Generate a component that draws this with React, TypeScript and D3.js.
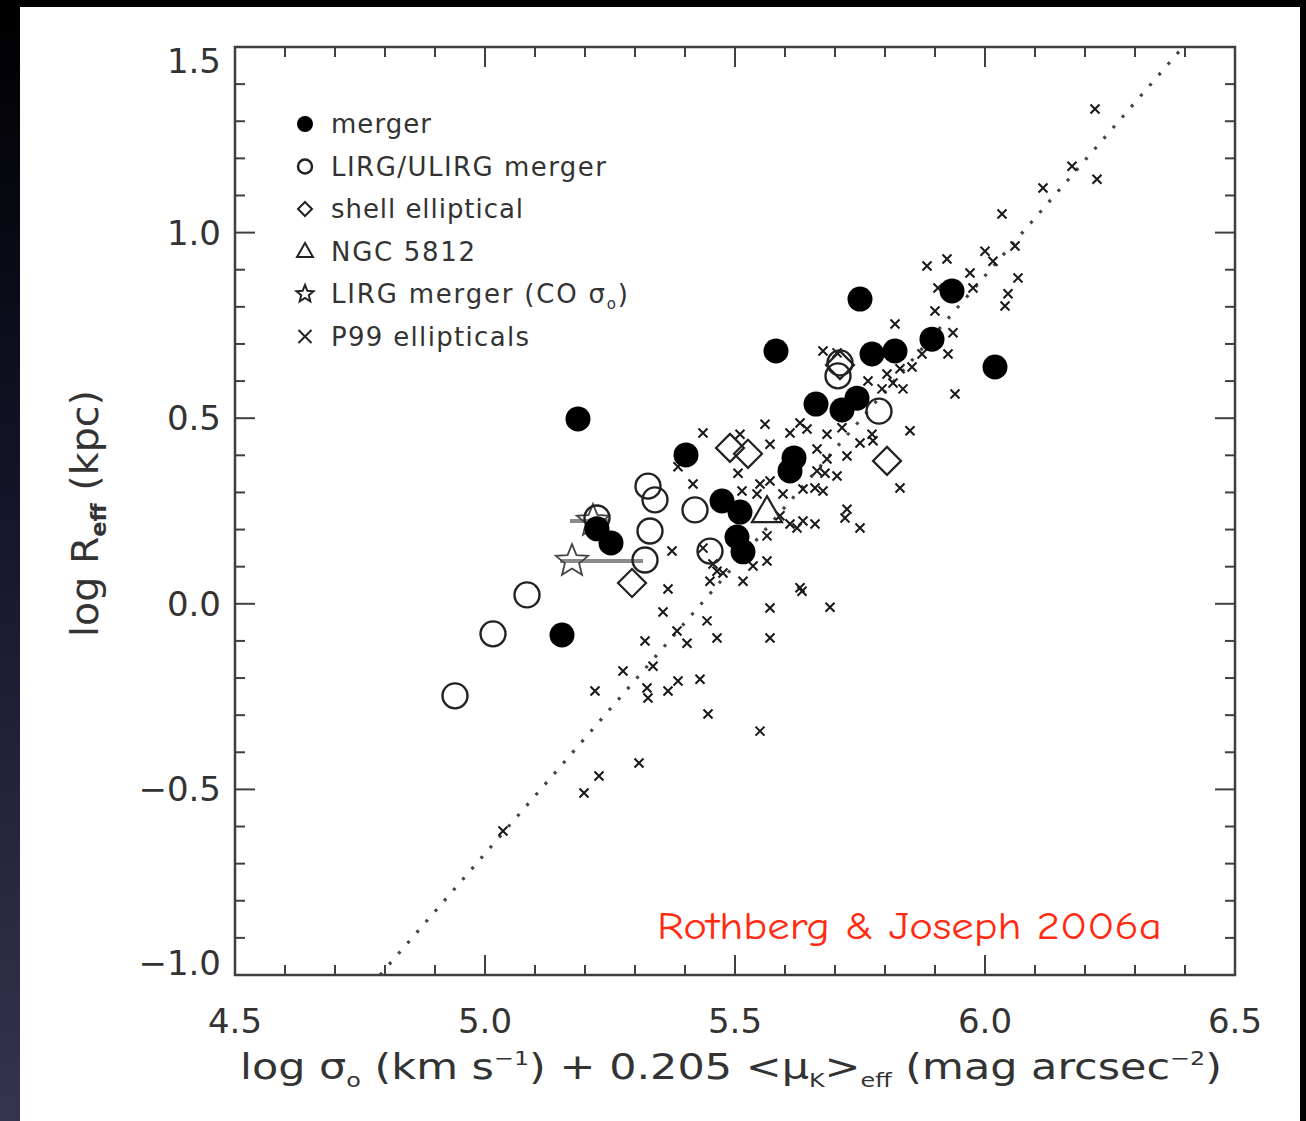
import React from "react";
import * as d3 from "d3";

// ---------- data ----------
const xTickValues = [4.5, 5.0, 5.5, 6.0, 6.5];
const xTickLabels = ["4.5", "5.0", "5.5", "6.0", "6.5"];
const yTickValues = [-1.0, -0.5, 0.0, 0.5, 1.0, 1.5];
const yTickLabels = ["\u22121.0", "\u22120.5", "0.0", "0.5", "1.0", "1.5"];

// merger (filled circles)
const mergers: [number, number][] = [
  [5.186, 0.498], [5.224, 0.202], [5.252, 0.164], [5.154, -0.084], [5.402, 0.401],
  [5.474, 0.277], [5.51, 0.247], [5.504, 0.18], [5.516, 0.14], [5.582, 0.681],
  [5.61, 0.358], [5.618, 0.393], [5.662, 0.538], [5.714, 0.522], [5.744, 0.554],
  [5.75, 0.821], [5.774, 0.673], [5.82, 0.681], [5.894, 0.713], [5.934, 0.843],
  [6.02, 0.638],
];

// LIRG/ULIRG merger (open circles)
const lirgMergers: [number, number][] = [
  [4.94, -0.248], [5.016, -0.081], [5.084, 0.024], [5.224, 0.231], [5.326, 0.317],
  [5.34, 0.28], [5.33, 0.196], [5.32, 0.118], [5.42, 0.253], [5.45, 0.142],
  [5.706, 0.614], [5.71, 0.649], [5.788, 0.519],
];

// shell elliptical (diamonds)
const shellEllipticals: [number, number][] = [
  [5.49, 0.42], [5.526, 0.404], [5.804, 0.385], [5.294, 0.056], [5.71, 0.643],
];

// NGC 5812 (triangle)
const ngc5812: [number, number][] = [[5.564, 0.248]];

// LIRG merger (CO sigma) stars with horizontal error bars
const lirgCOx = [5.174, 5.216];
const lirgCOy = [0.115, 0.223];
const lirgCOxLow = [5.15, 5.17];
const lirgCOxHigh = [5.316, 5.25];

// P99 ellipticals (crosses)
const p99: [number, number][] = [
  [6.22, 1.333], [6.174, 1.179], [6.224, 1.144], [6.116, 1.12], [6.034, 1.05],
  [6.06, 0.964], [6.0, 0.95], [6.016, 0.923], [5.884, 0.91], [5.924, 0.929],
  [5.97, 0.891], [6.066, 0.878], [5.976, 0.851], [6.046, 0.835], [6.04, 0.802],
  [5.906, 0.851], [5.9, 0.789], [5.82, 0.754], [5.936, 0.73], [5.926, 0.673],
  [5.94, 0.565], [5.85, 0.466], [5.804, 0.619], [5.836, 0.579], [5.874, 0.673],
  [5.676, 0.681], [5.704, 0.676], [5.83, 0.633], [5.854, 0.638], [5.766, 0.6],
  [5.794, 0.579], [5.816, 0.595], [5.436, 0.46], [5.56, 0.484], [5.83, 0.312],
  [5.416, 0.323], [5.51, 0.457], [5.75, 0.433], [5.724, 0.398], [5.684, 0.39],
  [5.776, 0.439], [5.57, 0.43], [5.61, 0.46], [5.63, 0.487], [5.644, 0.471],
  [5.684, 0.457], [5.714, 0.474], [5.774, 0.457], [5.664, 0.417], [5.664, 0.358],
  [5.68, 0.352], [5.704, 0.344], [5.66, 0.312], [5.676, 0.304], [5.636, 0.309],
  [5.506, 0.352], [5.55, 0.323], [5.57, 0.331], [5.514, 0.304], [5.544, 0.296],
  [5.596, 0.296], [5.59, 0.237], [5.61, 0.215], [5.624, 0.204], [5.636, 0.223],
  [5.66, 0.215], [5.724, 0.255], [5.72, 0.231], [5.75, 0.204], [5.564, 0.183],
  [5.436, 0.15], [5.456, 0.107], [5.45, 0.061], [5.516, 0.061], [5.564, 0.115],
  [5.63, 0.043], [5.476, 0.083], [5.374, 0.142], [5.366, 0.04], [5.356, -0.022],
  [5.444, -0.046], [5.384, -0.073], [5.404, -0.106], [5.464, -0.092], [5.32, -0.1],
  [5.57, -0.011], [5.57, -0.092], [5.634, 0.034], [5.464, 0.088], [5.536, 0.102],
  [5.336, -0.168], [5.276, -0.181], [5.22, -0.235], [5.324, -0.227], [5.326, -0.254],
  [5.366, -0.235], [5.386, -0.208], [5.43, -0.203], [5.446, -0.297], [5.55, -0.343],
  [5.308, -0.429], [5.228, -0.464], [5.198, -0.51], [5.036, -0.612], [5.69, -0.009],
  [5.386, 0.369],
];

// fundamental-plane fit line: y = intercept + slope * x
const fitSlope = 1.5567;
const fitIntercept = -8.4566;

const legendLabels = [
  "merger",
  "LIRG/ULIRG merger",
  "shell elliptical",
  "NGC 5812",
  "LIRG merger (CO σo)",
  "P99 ellipticals",
];

const creditText = "Rothberg & Joseph 2006a";

// ---------- helpers ----------
function starPath(cx: number, cy: number, R: number, r: number) {
  const pts: string[] = [];
  for (let i = 0; i < 10; i++) {
    const ang = -Math.PI / 2 + (i * Math.PI) / 5;
    const rad = i % 2 === 0 ? R : r;
    pts.push(`${cx + rad * Math.cos(ang)},${cy + rad * Math.sin(ang)}`);
  }
  return "M" + pts.join("L") + "Z";
}
function diamondPath(cx: number, cy: number, h: number) {
  return `M${cx},${cy - h}L${cx + h},${cy}L${cx},${cy + h}L${cx - h},${cy}Z`;
}
function trianglePath(cx: number, cy: number, w: number, hgt: number) {
  return `M${cx},${cy - hgt * 0.6}L${cx + w / 2},${cy + hgt * 0.4}L${cx - w / 2},${cy + hgt * 0.4}Z`;
}
function crossPath(cx: number, cy: number, s: number) {
  return `M${cx - s},${cy - s}L${cx + s},${cy + s}M${cx - s},${cy + s}L${cx + s},${cy - s}`;
}

export default function App() {
  const W = 1306;
  const H = 1121;
  const x = d3.scaleLinear().domain([4.5, 6.5]).range([235, 1235]);
  const y = d3.scaleLinear().domain([-1.0, 1.5]).range([975, 47]);
  const [x0, x1] = x.range();
  const [yb, yt] = y.range();
  const axisColor = "#3f3f3f";
  const textColor = "#333";
  const font = "'DejaVu Sans', 'Liberation Sans', sans-serif";

  const xMinor = d3.range(45, 66).map((v) => v / 10);
  const yMinor = d3.range(-10, 16).map((v) => v / 10);
  const isMajor = (v: number) => Math.abs(v * 2 - Math.round(v * 2)) < 1e-6;

  const fitX0 = (-1.0 - fitIntercept) / fitSlope;
  const fitX1 = (1.5 - fitIntercept) / fitSlope;

  const legendX = 305;
  const legendY0 = 124;
  const legendDy = 42.5;
  const legendTextX = 331;
  const legendWidths = [100, 275, 192, 144, 297, 198];

  return (
    <div style={{ position: "absolute", left: 0, top: 0 }}>
      <svg width={W} height={H} style={{ display: "block" }}>
        <defs>
          <linearGradient id="leftStrip" x1="0" y1="0" x2="0" y2="1">
            <stop offset="0" stopColor="#000000" />
            <stop offset="0.45" stopColor="#14142a" />
            <stop offset="1" stopColor="#34344e" />
          </linearGradient>
          <clipPath id="plotClip">
            <rect x={x0} y={yt} width={x1 - x0} height={yb - yt} />
          </clipPath>
        </defs>
        <rect x={0} y={0} width={W} height={H} fill="#000" />
        <rect x={0} y={0} width={20} height={H} fill="url(#leftStrip)" />
        <rect x={20} y={7} width={1280} height={H - 7} fill="#ffffff" />

        {/* fit line */}
        <g clipPath="url(#plotClip)">
          <line
            x1={x(fitX0)}
            y1={y(-1.0)}
            x2={x(fitX1)}
            y2={y(1.5)}
            stroke="#444"
            strokeWidth={3.2}
            strokeDasharray="3 11"
          />
        </g>

        {/* P99 crosses */}
        <g stroke="#1a1a1a" strokeWidth={2.1} fill="none">
          {p99.map((d, i) => (
            <path key={i} d={crossPath(x(d[0]), y(d[1]), 4.5)} />
          ))}
        </g>

        {/* error bars for CO stars */}
        <g stroke="#8a8a8a" strokeWidth={4}>
          {lirgCOx.map((_, i) => (
            <line
              key={i}
              x1={x(lirgCOxLow[i])}
              x2={x(lirgCOxHigh[i])}
              y1={y(lirgCOy[i])}
              y2={y(lirgCOy[i])}
            />
          ))}
        </g>
        <g stroke="#444" strokeWidth={1.8} fill="none">
          {lirgCOx.map((v, i) => (
            <path key={i} d={starPath(x(v), y(lirgCOy[i]), 17, 7.5)} />
          ))}
        </g>

        {/* shell ellipticals */}
        <g stroke="#222" strokeWidth={2.2} fill="none">
          {shellEllipticals.map((d, i) => (
            <path key={i} d={diamondPath(x(d[0]), y(d[1]), 14)} />
          ))}
        </g>

        {/* NGC 5812 */}
        <g stroke="#222" strokeWidth={2.2} fill="none">
          {ngc5812.map((d, i) => (
            <path key={i} d={trianglePath(x(d[0]), y(d[1]), 30, 26)} />
          ))}
        </g>

        {/* LIRG/ULIRG open circles */}
        <g stroke="#222" strokeWidth={2.4} fill="none">
          {lirgMergers.map((d, i) => (
            <circle key={i} cx={x(d[0])} cy={y(d[1])} r={12.5} />
          ))}
        </g>

        {/* mergers filled circles */}
        <g fill="#000">
          {mergers.map((d, i) => (
            <circle key={i} cx={x(d[0])} cy={y(d[1])} r={12.5} />
          ))}
        </g>

        {/* frame */}
        <rect
          x={x0}
          y={yt}
          width={x1 - x0}
          height={yb - yt}
          fill="none"
          stroke={axisColor}
          strokeWidth={2.5}
        />
        {/* ticks on all four sides */}
        <g stroke={axisColor} strokeWidth={2}>
          {xMinor.map((v, i) => {
            const len = isMajor(v) ? 20 : 10;
            return (
              <g key={i}>
                <line x1={x(v)} x2={x(v)} y1={yb} y2={yb - len} />
                <line x1={x(v)} x2={x(v)} y1={yt} y2={yt + len} />
              </g>
            );
          })}
          {yMinor.map((v, i) => {
            const len = isMajor(v) ? 20 : 10;
            return (
              <g key={i}>
                <line x1={x0} x2={x0 + len} y1={y(v)} y2={y(v)} />
                <line x1={x1} x2={x1 - len} y1={y(v)} y2={y(v)} />
              </g>
            );
          })}
        </g>

        {/* tick labels */}
        <g fontFamily={font} fontSize={34} fill={textColor}>
          {xTickValues.map((v, i) => (
            <text key={i} x={x(v)} y={yb + 58} textAnchor="middle">
              {xTickLabels[i]}
            </text>
          ))}
          {yTickValues.map((v, i) => {
            let off = 12;
            if (i === yTickValues.length - 1) off = 26;
            if (i === 0) off = 0;
            return (
              <text key={i} x={221} y={y(v) + off} textAnchor="end">
                {yTickLabels[i]}
              </text>
            );
          })}
        </g>

        {/* axis titles */}
        <text
          x={240}
          y={1079}
          fontFamily={font}
          fontSize={36}
          fill={textColor}
          textLength={982}
          lengthAdjust="spacingAndGlyphs"
        >
          log σ<tspan fontSize={20} dy={8}>o</tspan>
          <tspan dy={-8}> (km s</tspan>
          <tspan fontSize={20} dy={-14}>−1</tspan>
          <tspan dy={14}>) + 0.205 &lt;μ</tspan>
          <tspan fontSize={20} dy={8}>K</tspan>
          <tspan dy={-8}>&gt;</tspan>
          <tspan fontSize={20} dy={8}>eff</tspan>
          <tspan dy={-8}> (mag arcsec</tspan>
          <tspan fontSize={20} dy={-14}>−2</tspan>
          <tspan dy={14}>)</tspan>
        </text>
        <text
          transform="translate(98,637) rotate(-90)"
          fontFamily={font}
          fontSize={37}
          fill={textColor}
          textLength={247}
          lengthAdjust="spacingAndGlyphs"
        >
          log R<tspan fontSize={21} dy={8} fontWeight="bold">eff</tspan>
          <tspan dy={-8}> (kpc)</tspan>
        </text>

        {/* legend */}
        <g>
          <circle cx={legendX} cy={legendY0} r={8} fill="#000" />
          <circle cx={legendX} cy={legendY0 + legendDy} r={7} fill="none" stroke="#222" strokeWidth={2.5} />
          <path d={diamondPath(legendX, legendY0 + 2 * legendDy, 7)} fill="none" stroke="#222" strokeWidth={2} />
          <path d={trianglePath(legendX, legendY0 + 3 * legendDy, 16, 14)} fill="none" stroke="#222" strokeWidth={2} />
          <path d={starPath(legendX, legendY0 + 4 * legendDy, 9, 4)} fill="none" stroke="#222" strokeWidth={2} />
          <path d={crossPath(legendX, legendY0 + 5 * legendDy, 6.5)} fill="none" stroke="#222" strokeWidth={2} />
          <g fontFamily={font} fontSize={26} fill={textColor}>
            {legendLabels.map((t, i) => {
              const cy = legendY0 + i * legendDy + 9;
              if (t.includes("σo")) {
                return (
                  <text key={i} x={legendTextX} y={cy} textLength={legendWidths[i]} lengthAdjust="spacing">
                    LIRG merger (CO σ<tspan fontSize={15} dy={6}>o</tspan>
                    <tspan dy={-6}>)</tspan>
                  </text>
                );
              }
              return (
                <text key={i} x={legendTextX} y={cy} textLength={legendWidths[i]} lengthAdjust="spacing">
                  {t}
                </text>
              );
            })}
          </g>
        </g>

        {/* credit */}
        <text
          x={657}
          y={939}
          fontFamily="'Comic Sans MS', 'Comic Neue', 'DejaVu Sans', sans-serif"
          fontSize={38}
          fill="#ff2a10"
          textLength={505}
          lengthAdjust="spacingAndGlyphs"
        >
          {creditText}
        </text>
      </svg>
    </div>
  );
}
